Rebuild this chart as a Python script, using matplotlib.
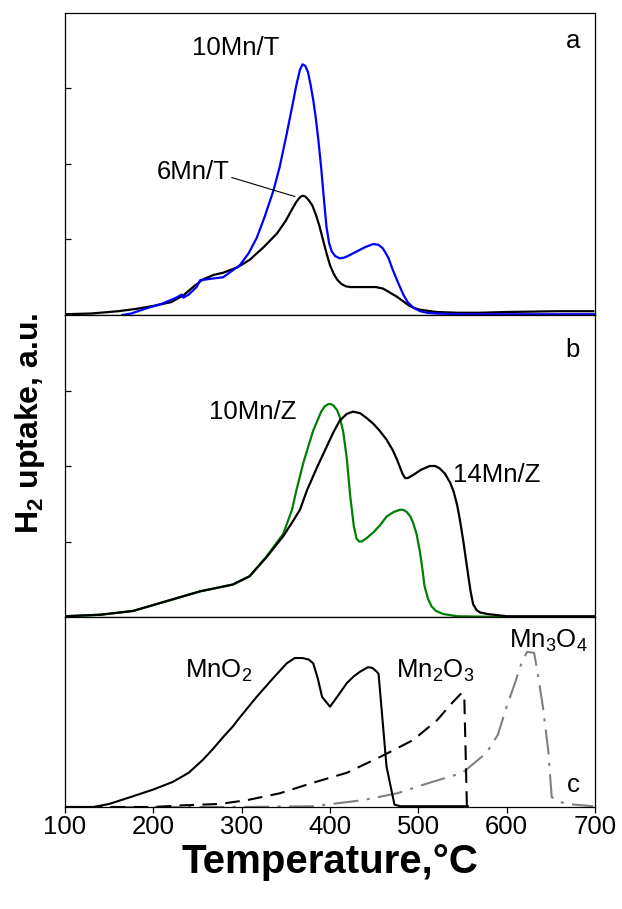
import matplotlib
matplotlib.use("Agg")
import matplotlib.pyplot as plt

plt.rcParams['font.family'] = ['Liberation Sans', 'DejaVu Sans']
plt.rcParams['mathtext.fontset'] = 'custom'
plt.rcParams['mathtext.rm'] = 'Liberation Sans'
plt.rcParams['mathtext.bf'] = 'Liberation Sans:bold'
plt.rcParams['mathtext.default'] = 'regular'

# ---------------- data ----------------
# panel a
t_6mnT = [100, 130, 160, 180, 200, 220, 234, 245, 256, 268, 279, 295, 309, 325, 340, 350, 357, 362, 366, 369, 372, 376,
          380, 384, 388, 392, 396, 400, 404, 408, 413, 418, 423, 442, 452, 460, 466, 476, 483, 490, 496, 502, 520, 544,
          570, 600, 630, 657, 698]
v_6mnT = [0.01, 0.02, 0.05, 0.08, 0.12, 0.17, 0.26, 0.37, 0.47, 0.53, 0.56, 0.63, 0.73, 0.90, 1.08, 1.25, 1.40, 1.50,
          1.56, 1.58, 1.57, 1.52, 1.45, 1.33, 1.18, 1.00, 0.82, 0.66, 0.55, 0.47, 0.41, 0.38, 0.37, 0.37, 0.37, 0.35,
          0.31, 0.24, 0.18, 0.12, 0.09, 0.07, 0.04, 0.03, 0.03, 0.04, 0.045, 0.05, 0.05]

t_10mnT = [165, 175, 190, 210, 226, 232, 234, 240, 249, 253, 265, 279, 298, 308, 317, 326, 336, 343, 351, 357, 362, 366,
           369, 372, 375, 378, 381, 384, 387, 390, 393, 396, 399, 402, 406, 411, 416, 420, 430, 440, 449, 455, 460, 466,
           471, 477, 483, 488, 494, 502, 510, 520, 544, 600, 700]
v_10mnT = [0.0, 0.02, 0.08, 0.15, 0.23, 0.27, 0.23, 0.27, 0.37, 0.46, 0.48, 0.50, 0.66, 0.82, 1.02, 1.30, 1.65, 1.96,
           2.40, 2.75, 3.05, 3.25, 3.32, 3.30, 3.22, 3.05, 2.85, 2.60, 2.30, 1.95, 1.55, 1.17, 0.95, 0.84, 0.78, 0.75,
           0.76, 0.78, 0.84, 0.90, 0.94, 0.93, 0.88, 0.76, 0.60, 0.43, 0.27, 0.17, 0.10, 0.05, 0.03, 0.02, 0.01, 0.01,
           0.01]

# panel b
t_14mnZ = [100, 140, 177, 215, 253, 290, 309, 328, 347, 357, 366, 374, 386, 396, 404, 411, 419, 426, 434, 441, 449, 456,
           464, 471, 476, 479, 482, 485, 488, 494, 503, 513, 519, 524, 530, 536, 540, 544, 547, 551, 555, 559, 562, 566,
           570, 578, 600, 700]
v_14mnZ = [0.01, 0.03, 0.08, 0.21, 0.34, 0.43, 0.54, 0.79, 1.07, 1.25, 1.42, 1.68, 2.00, 2.25, 2.45, 2.60, 2.69, 2.72,
           2.70, 2.64, 2.56, 2.47, 2.35, 2.21, 2.08, 1.99, 1.90, 1.84, 1.84, 1.88, 1.95, 2.00, 2.00, 1.97, 1.90, 1.78,
           1.66, 1.48, 1.29, 1.00, 0.67, 0.35, 0.17, 0.09, 0.06, 0.04, 0.01, 0.01]

t_10mnZ = [100, 140, 177, 215, 253, 290, 309, 328, 347, 357, 362, 370, 381, 390, 394, 398, 401, 404, 408, 411, 415, 419,
           423, 427, 430, 433, 436, 442, 449, 457, 464, 472, 479, 483, 487, 491, 494, 498, 502, 505, 507, 511, 515, 520,
           528, 544, 600, 700]
v_10mnZ = [0.01, 0.03, 0.08, 0.21, 0.34, 0.43, 0.54, 0.80, 1.10, 1.42, 1.68, 2.05, 2.47, 2.72, 2.79, 2.82, 2.82, 2.80,
           2.74, 2.65, 2.45, 2.10, 1.59, 1.20, 1.04, 1.00, 1.00, 1.05, 1.12, 1.22, 1.33, 1.39, 1.42, 1.42, 1.39, 1.33,
           1.25, 1.10, 0.85, 0.60, 0.41, 0.24, 0.14, 0.08, 0.04, 0.01, 0.0, 0.0]

# panel c
t_mno2 = [100, 132, 150, 174, 200, 222, 240, 256, 268, 279, 290, 298, 317, 336, 351, 360, 369, 376, 381, 386, 391, 400,
          410, 419, 427, 434, 443, 448, 453, 455, 464, 473, 480, 500, 556]
v_mno2 = [0.0, 0.0, 0.04, 0.13, 0.23, 0.33, 0.45, 0.62, 0.77, 0.92, 1.06, 1.18, 1.45, 1.70, 1.89, 1.96, 1.96, 1.94, 1.89,
          1.70, 1.45, 1.32, 1.48, 1.63, 1.72, 1.78, 1.84, 1.83, 1.78, 1.75, 0.53, 0.03, 0.01, 0.01, 0.01]

t_mn2o3 = [100, 200, 230, 275, 306, 343, 381, 419, 457, 494, 521, 539, 549, 552, 555]
v_mn2o3 = [0.0, 0.0, 0.02, 0.04, 0.09, 0.18, 0.32, 0.45, 0.66, 0.88, 1.14, 1.38, 1.50, 1.47, 0.0]

t_mn3o4 = [100, 300, 381, 437, 476, 513, 550, 577, 590, 600, 610, 615, 623, 631, 634, 641, 647, 651, 660, 668, 698]
v_mn3o4 = [0.0, 0.0, 0.01, 0.09, 0.18, 0.32, 0.45, 0.71, 0.95, 1.32, 1.65, 1.84, 2.04, 2.03, 1.84, 1.32, 0.75, 0.13,
           0.07, 0.04, 0.01]

x_ticks = [100, 200, 300, 400, 500, 600, 700]

# ---------------- figure ----------------
W, H = 622, 909
fig = plt.figure(figsize=(W / 100, H / 100), dpi=100)
left, right = 65 / W, 595 / W


def mk(top_px, bot_px):
    return fig.add_axes([left, 1 - bot_px / H, right - left, (bot_px - top_px) / H])


axa = mk(13, 315)
axb = mk(315, 617)
axc = mk(617, 807)

FS = 18.5
for ax in (axa, axb, axc):
    ax.set_xlim(100, 700)
    for s in ax.spines.values():
        s.set_linewidth(0.9)
    ax.tick_params(axis='y', direction='in', length=4, width=0.9, labelleft=False)
    ax.tick_params(axis='x', direction='out', length=4, width=0.9, labelsize=FS, pad=2)
    ax.set_xticks(x_ticks)

for ax in (axa, axb):
    ax.set_ylim(0, 4)
    ax.set_yticks([1, 2, 3])
    ax.tick_params(axis='x', bottom=False, labelbottom=False)

axc.set_ylim(0, 2.5)
axc.set_yticks([])

# panel a
axa.plot(t_6mnT, v_6mnT, color='black', lw=1.6)
axa.plot(t_10mnT, v_10mnT, color='#0000ff', lw=1.6)
axa.text(293, 3.54, '10Mn/T', fontsize=FS, ha='center', va='center')
axa.text(245, 1.89, '6Mn/T', fontsize=FS, ha='center', va='center')
axa.plot([289, 360], [1.82, 1.57], color='black', lw=0.8)
axa.text(675, 3.63, 'a', fontsize=FS, ha='center', va='center')

# panel b
axb.plot(t_10mnZ, v_10mnZ, color='#008000', lw=1.6)
axb.plot(t_14mnZ, v_14mnZ, color='black', lw=1.6)
axb.text(312, 2.72, '10Mn/Z', fontsize=FS, ha='center', va='center')
axb.text(589, 1.88, '14Mn/Z', fontsize=FS, ha='center', va='center')
axb.text(675, 3.53, 'b', fontsize=FS, ha='center', va='center')

# panel c
axc.plot(t_mn3o4, v_mn3o4, color='#808080', lw=1.5, dashes=[12, 4, 1.5, 4])
axc.plot(t_mn2o3, v_mn2o3, color='black', lw=1.5, dashes=[7, 4])
axc.plot(t_mno2, v_mno2, color='black', lw=1.5)
axc.text(274, 1.70, 'MnO$_2$', fontsize=FS, ha='center', va='baseline')
axc.text(519, 1.70, 'Mn$_2$O$_3$', fontsize=FS, ha='center', va='baseline')
axc.text(647, 2.10, 'Mn$_3$O$_4$', fontsize=FS, ha='center', va='baseline')
axc.text(675, 0.29, 'c', fontsize=FS, ha='center', va='center')

fig.text(330 / W, 1 - 873 / H, 'Temperature,°C', fontsize=29, fontweight='bold', ha='center', va='baseline')
fig.text(30 / W, 1 - 423 / H, 'H$_2$ uptake, a.u.', fontsize=23, fontweight='bold', ha='center', va='center',
         rotation=90)

fig.savefig('out.png', dpi=100)
